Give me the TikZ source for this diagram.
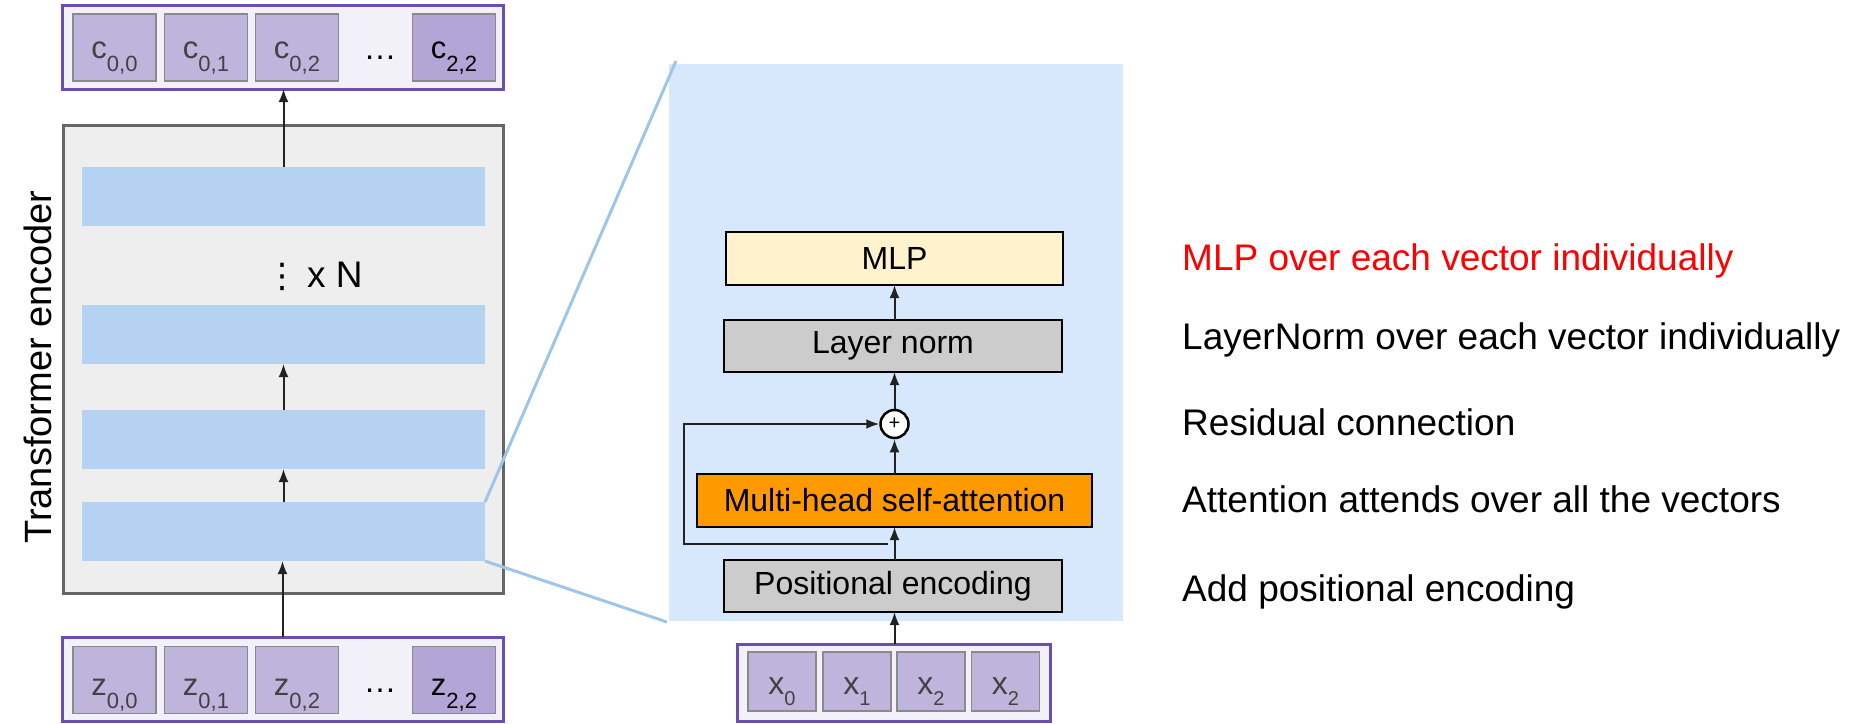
\documentclass[tikz,border=0pt]{standalone}
\usepackage{fontspec}
\setmainfont{Liberation Sans}
\newfontfamily\dejavu{DejaVu Sans}
\usetikzlibrary{arrows.meta}
\newcommand\myfs[1]{\fontsize{#1}{#1}\selectfont}
\newcommand\bigsub[2]{\myfs{31}#1\raisebox{-13pt}{\myfs{22}#2}}
\newcommand\smallsub[2]{\myfs{32}#1\raisebox{-11pt}{\myfs{20}#2}}
\definecolor{panelblue}{HTML}{D7E8FC}
\definecolor{barblue}{HTML}{B5D2F2}
\definecolor{zoomblue}{HTML}{9FC5E8}
\definecolor{encfill}{HTML}{EEEEEE}
\definecolor{encdraw}{HTML}{666666}
\definecolor{purpdraw}{HTML}{6A4FB0}
\definecolor{purpfill}{HTML}{F2F0F8}
\definecolor{cellfill}{HTML}{BFB4DC}
\definecolor{celldark}{HTML}{B3A6D6}
\definecolor{celldraw}{HTML}{8A8A8A}
\definecolor{celltext}{HTML}{424242}
\definecolor{mlpfill}{HTML}{FFF2CC}
\definecolor{normfill}{HTML}{CCCCCC}
\definecolor{attfill}{HTML}{FF9900}
\definecolor{arrowc}{HTML}{222222}
\tikzset{
  rectnode/.style={rectangle, inner sep=0pt, outer sep=0pt},
  vecbox/.style={rectnode, draw=purpdraw, fill=purpfill, line width=3pt},
  cellbox/.style={rectnode, draw=celldraw, fill=cellfill, line width=1.5pt, minimum width=83pt, minimum height=67pt},
  xcell/.style={rectnode, draw=celldraw, fill=cellfill, line width=1.5pt, minimum width=68pt, minimum height=59pt},
  encbox/.style={rectnode, draw=encdraw, fill=encfill, line width=3pt},
  barbox/.style={rectnode, fill=barblue, minimum width=403pt, minimum height=59pt},
  blockbox/.style={rectnode, draw=black, line width=2pt, font=\myfs{32}},
  celllab/.style={anchor=base, inner sep=0pt, text=celltext},
  arr/.style={draw=arrowc, line width=2pt, -{Latex[length=13pt,width=10pt]}},
  zoomline/.style={draw=zoomblue, line width=3pt},
  desc/.style={anchor=base west, inner sep=0pt, font=\myfs{37}},
}
\begin{document}
\begin{tikzpicture}[x=1pt,y=-1pt]
\useasboundingbox (0,0) rectangle (1863,723);
% ---------- left: encoder ----------
\node[encbox, minimum width=440pt, minimum height=468pt] (enc) at (283,359) {};
\node[barbox] (b1) at (283.5,196.5) {};
\node[barbox] (b2) at (283.5,334.5) {};
\node[barbox] (b3) at (283.5,439.5) {};
\node[barbox] (b4) at (283.5,531.5) {};
\node[anchor=base, inner sep=0pt, font=\dejavu\myfs{34}] (vdots) at (282,287) {⋮};
\node[anchor=base west, inner sep=0pt, font=\myfs{37}] (xN) at (307,287) {x N};
\node[rotate=90, anchor=base, inner sep=0pt, font=\myfs{38}] (enclab) at (51,367) {Transformer encoder};
% output vector
\node[vecbox, minimum width=441pt, minimum height=84pt] (outC) at (282.5,47) {};
\node[cellbox] (c1) at (114.5,47.5) {};
\node[cellbox] (c2) at (206,47.5) {};
\node[cellbox] (c3) at (297,47.5) {};
\node[cellbox, fill=celldark] (c4) at (454,47.5) {};
\node[celllab] at (114.5,58) {\bigsub{c}{0,0}};
\node[celllab] at (206,58) {\bigsub{c}{0,1}};
\node[celllab] at (297,58) {\bigsub{c}{0,2}};
\node[celllab, text=black] at (380,59) {\myfs{33}…};
\node[celllab, text=black] at (454,58) {\bigsub{c}{2,2}};
% input vector
\node[vecbox, minimum width=441pt, minimum height=84pt] (inZ) at (282.5,679) {};
\node[cellbox] (z1) at (114.5,680) {};
\node[cellbox] (z2) at (206,680) {};
\node[cellbox] (z3) at (297,680) {};
\node[cellbox, fill=celldark] (z4) at (454,680) {};
\node[celllab] at (114.5,695) {\bigsub{z}{0,0}};
\node[celllab] at (206,695) {\bigsub{z}{0,1}};
\node[celllab] at (297,695) {\bigsub{z}{0,2}};
\node[celllab, text=black] at (380,692) {\myfs{33}…};
\node[celllab, text=black] at (454,695) {\bigsub{z}{2,2}};
% encoder arrows
\draw[arr] (inZ.north) -- (inZ.north |- b4.south);
\draw[arr] (b4.north) -- (b4.north |- b3.south);
\draw[arr] (b3.north) -- (b3.north |- b2.south);
\draw[arr] (b1.north) -- (b1.north |- outC.south);
% ---------- zoomed panel ----------
\node[rectnode, fill=panelblue, minimum width=454pt, minimum height=557pt] (panel) at (896,342.5) {};
\draw[zoomline] (b4.north east) -- ([shift={(7,-3)}]panel.north west);
\draw[zoomline] (b4.south east) -- ([shift={(-2,1)}]panel.south west);
\node[blockbox, fill=mlpfill, minimum width=337pt, minimum height=53pt] (mlp) at (894.5,258.5) {MLP};
\node[blockbox, fill=normfill, minimum width=338pt, minimum height=52pt] (ln) at (893,346) {Layer norm};
\node[circle, draw=black, fill=white, line width=2.5pt, minimum size=28pt, inner sep=0pt, font=\myfs{20}] (plus) at (894.5,424) {+};
\node[blockbox, fill=attfill, minimum width=395pt, minimum height=53pt] (mhsa) at (894.5,500.5) {Multi-head self-attention};
\node[blockbox, fill=normfill, minimum width=338pt, minimum height=52pt] (pe) at (893,586) {Positional encoding};
% x vector
\node[vecbox, minimum width=313pt, minimum height=77pt] (inX) at (893.5,682.5) {};
\node[xcell] (x1) at (782,681.5) {};
\node[xcell] (x2) at (857,681.5) {};
\node[xcell] (x3) at (931,681.5) {};
\node[xcell] (x4) at (1005.5,681.5) {};
\node[celllab] at (782,694) {\smallsub{x}{0}};
\node[celllab] at (857,694) {\smallsub{x}{1}};
\node[celllab] at (931,694) {\smallsub{x}{2}};
\node[celllab] at (1005.5,694) {\smallsub{x}{2}};
% panel arrows
\draw[arr] (plus.north |- inX.north) -- (plus.north |- pe.south);
\draw[arr] (plus.north |- pe.north) -- (plus.north |- mhsa.south);
\draw[arr] (plus.north |- mhsa.north) -- (plus.south);
\draw[arr] (plus.north) -- (plus.north |- ln.south);
\draw[arr] (plus.north |- ln.north) -- (plus.north |- mlp.south);
\coordinate (rs) at (888,544);
\draw[arr] (rs) -- ++(-204,0) |- (plus.west);
% ---------- descriptions ----------
\node[desc, text=red] (d1) at (1182,270) {MLP over each vector individually};
\node[desc] (d2) at (1182,349) {LayerNorm over each vector individually};
\node[desc] (d3) at (1182,435) {Residual connection};
\node[desc] (d4) at (1182,512) {Attention attends over all the vectors};
\node[desc] (d5) at (1182,601) {Add positional encoding};
\end{tikzpicture}
\end{document}
